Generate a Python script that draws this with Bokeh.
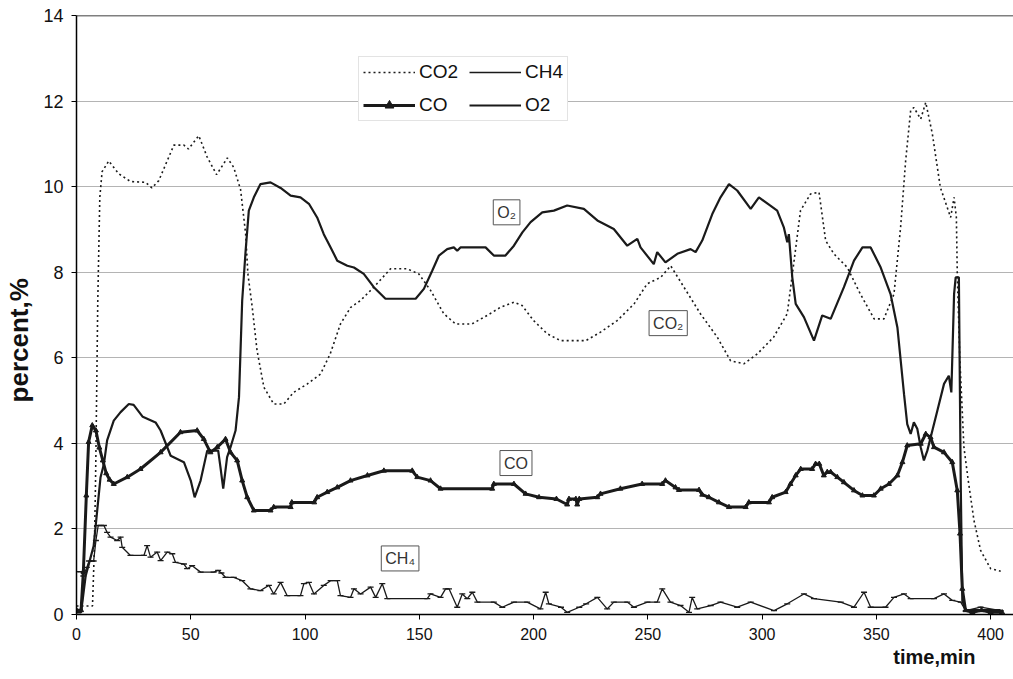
from bokeh.plotting import figure
from bokeh.models import Range1d, Legend, LegendItem, Span, Label, FixedTicker, Title
from bokeh.embed import file_html
from bokeh.resources import INLINE

# Gas composition during the run (time in minutes, concentration in percent)
co2_t = [0, 7, 7.8, 8.3, 8.6, 9.3, 10.2, 11.2, 14.1, 18.5, 23.6, 30.2, 33, 36, 42.6, 47, 49,
         53.5, 57.2, 61.3, 66, 68.8, 71.8, 74, 75, 76.9, 79, 82, 86.3, 90.7, 95, 101, 106.8,
         111, 115.5, 120, 124.3, 130.1, 137.4, 144.7, 149.8, 155, 160.7, 165.9, 173, 179.7,
         185.5, 191.4, 195, 200, 206, 211.8, 222.8, 229.3, 236.6, 244, 249.7, 255.6, 260,
         265.8, 273, 280.4, 286.2, 292, 297.9, 305, 311, 314, 316.8, 321.2, 324.9, 327.8,
         331.4, 337.3, 343, 349, 353.3, 357.7, 360.6, 362.8, 365, 366.4, 369.4, 371.6, 374.5,
         378, 382.5, 384, 385, 385.4, 386.5, 388.3, 390.2, 392.7, 395.6, 400, 404.4]
co2_v = [0.2, 0.2, 1.5, 3.0, 4.2, 7.3, 9.75, 10.35, 10.6, 10.3, 10.12, 10.1, 9.97, 10.14, 10.97,
         10.97, 10.88, 11.19, 10.69, 10.28, 10.67, 10.45, 9.93, 8.9, 7.96, 7.18, 6.17, 5.31,
         4.92, 4.92, 5.19, 5.39, 5.62, 6.09, 6.79, 7.18, 7.34, 7.65, 8.08, 8.08, 7.96, 7.57,
         7.03, 6.79, 6.79, 6.99, 7.18, 7.3, 7.22, 6.87, 6.56, 6.4, 6.4, 6.6, 6.87, 7.26, 7.73,
         7.88, 8.15, 7.65, 7.03, 6.48, 5.93, 5.86, 6.09, 6.48, 7.03, 8.27, 9.44, 9.83, 9.87,
         8.74, 8.43, 8.11, 7.49, 6.91, 6.91, 7.49, 9.05, 10.6, 11.78, 11.85, 11.58, 11.97,
         11.23, 9.98, 9.28, 9.75, 9.28, 7.96, 6.0, 3.91, 3.13, 2.2, 1.5, 1.07, 1.01]

o2_t = [0, 2, 4, 6, 7.5, 9, 10.5, 12, 13.4, 16.3, 19.3, 22.9, 25, 29, 34.6, 36.8, 41.2, 47, 50,
        51.7, 54.3, 57.2, 62, 63, 64.2, 65.9, 67.4, 69.6, 71.1, 72.5, 74, 75.4, 77.6, 80.5,
        84.9, 89.3, 93.7, 98, 101.7, 105.3, 108.2, 111.2, 114.1, 118.5, 121.4, 125.7, 130.1,
        135.2, 148.4, 152, 155.7, 158.6, 162.2, 165.1, 166.6, 168, 179, 182.6, 187.7, 191.4,
        195.1, 198.7, 203.8, 208.9, 214.7, 222, 227.9, 235.1, 241, 245.4, 246.8, 252.6,
        254.1, 257.7, 262.9, 268.7, 270.9, 273.8, 278.2, 281.8, 285.5, 289.1, 295, 298.6,
        303, 306.6, 309.5, 311, 311.7, 313.2, 314.7, 318.3, 322.7, 326.3, 330, 335.8, 340.2,
        343.9, 347.5, 351.9, 356.2, 359.2, 362.1, 363.5, 365, 366.4, 367.9, 369.4, 370.8,
        372.3, 374.5, 376.7, 379.6, 381.7, 382.8, 384, 384.7, 386.1, 386.9, 387.6, 389, 404.4]
o2_v = [0.05, 0.05, 0.9, 1.3, 1.6, 2.4, 3.2, 3.52, 4.07, 4.53, 4.73, 4.92, 4.9, 4.62, 4.49, 4.3,
        3.71, 3.56, 3.13, 2.74, 3.13, 3.83, 3.83, 3.44, 2.94, 3.68, 3.91, 4.3, 5.08, 7.34, 8.5,
        9.44, 9.75, 10.06, 10.1, 9.97, 9.79, 9.75, 9.6, 9.28, 8.89, 8.58, 8.27, 8.15, 8.11,
        7.96, 7.65, 7.38, 7.38, 7.61, 8.04, 8.39, 8.54, 8.58, 8.5, 8.58, 8.58, 8.39, 8.39,
        8.62, 8.93, 9.17, 9.4, 9.44, 9.56, 9.48, 9.21, 9.01, 8.62, 8.78, 8.58, 8.19, 8.47,
        8.23, 8.43, 8.54, 8.47, 8.74, 9.36, 9.75, 10.06, 9.91, 9.48, 9.75, 9.58, 9.44, 9.05,
        8.7, 8.89, 7.88, 7.26, 6.95, 6.4, 6.99, 6.91, 7.65, 8.27, 8.58, 8.58, 8.11, 7.49,
        6.71, 5.15, 4.45, 4.22, 4.49, 4.34, 3.91, 3.6, 3.83, 4.3, 4.77, 5.39, 5.58, 5.19,
        7.49, 7.88, 7.88, 3.13, 0.33, 0.1, 0.1]

co_t = [0, 2, 3, 4.3, 5.3, 6.9, 8.5, 10, 11.5, 13, 14.5, 16.3, 22.2, 28, 36.8, 45.5, 52.8, 55.7,
        58.6, 61.6, 65.2, 67.4, 70.3, 72.5, 74.7, 77.6, 84.9, 86.3, 93.7, 94.2, 104, 105.3,
        109.7, 114.1, 119.9, 127.3, 134.5, 146.9, 149.1, 154.9, 159.3, 181.9, 182.6, 191.4,
        196.5, 202.4, 210, 214.7, 215.5, 218.5, 219.1, 220, 227.9, 229.3, 238, 247.5, 256.3,
        257.7, 262.1, 263.6, 272.4, 273.8, 276.7, 281.1, 285.5, 292.8, 294.2, 303, 304.4,
        310.3, 312.4, 314.7, 316.9, 321.9, 323.4, 325, 327, 328.5, 330, 332.9, 335.8, 340.2,
        343.9, 348.9, 351.9, 355.5, 359.2, 361.4, 363.5, 369.4, 371.6, 373.7, 375.2, 379.6,
        383.2, 385.4, 386.6, 387.6, 389, 392, 396, 400, 405]
co_v = [0.1, 0.1, 1.0, 2.78, 4.03, 4.42, 4.3, 3.9, 3.6, 3.3, 3.15, 3.05, 3.21, 3.4, 3.79, 4.26,
        4.3, 4.1, 3.79, 3.91, 4.1, 3.79, 3.6, 3.13, 2.74, 2.43, 2.43, 2.51, 2.51, 2.62, 2.62,
        2.74, 2.86, 2.97, 3.13, 3.25, 3.36, 3.36, 3.21, 3.13, 2.94, 2.94, 3.05, 3.05, 2.82,
        2.74, 2.7, 2.57, 2.7, 2.7, 2.57, 2.7, 2.74, 2.82, 2.94, 3.05, 3.05, 3.13, 2.97, 2.91,
        2.91, 2.8, 2.74, 2.62, 2.51, 2.51, 2.62, 2.62, 2.74, 2.86, 3.05, 3.25, 3.4, 3.4, 3.52,
        3.52, 3.25, 3.33, 3.33, 3.21, 3.09, 2.9, 2.78, 2.78, 2.94, 3.05, 3.25, 3.56, 3.95,
        3.99, 4.22, 4.14, 3.91, 3.79, 3.56, 2.9, 1.89, 0.6, 0.1, 0.05, 0.1, 0.05, 0.05]

ch4_t = [0, 2, 3, 4.5, 5.5, 7.5, 8.5, 9.5, 12, 13.4, 14.9, 17.8, 19.3, 20, 23.6, 29.5, 30.9,
         32.4, 35.3, 36.8, 39.7, 41.9, 43.3, 47, 48.4, 50.6, 54.3, 60, 62, 63.4, 65.2, 68.8,
         72.5, 76.1, 80.5, 84.2, 86.3, 89.3, 92.2, 98, 99.5, 101.7, 103.9, 108.2, 111.2, 114.1,
         115.5, 119.9, 121.4, 124.3, 128.7, 130.9, 133.8, 136, 153.5, 154.9, 159.3, 161.5, 163,
         166.6, 168.8, 171, 173.2, 175.4, 182.6, 186.3, 191.4, 197.2, 203, 205.3, 206.7, 212,
         214.7, 220, 223, 227.9, 232.2, 235.1, 241, 243.9, 249.8, 254.1, 256.3, 259.9, 264.3,
         268, 269.4, 271.6, 277.5, 281.8, 289.1, 295, 305.2, 311, 318.3, 322.7, 334.4, 340.2,
         344.6, 347.5, 354, 357.7, 362.1, 365, 375.2, 379.6, 383.2, 386.9, 389.1, 395.6, 404.4]
ch4_v = [1.0, 1.0, 0.9, 1.1, 1.25, 1.25, 1.73, 2.08, 2.08, 1.92, 1.81, 1.73, 1.81, 1.57, 1.38,
         1.38, 1.61, 1.34, 1.46, 1.26, 1.46, 1.42, 1.22, 1.18, 1.07, 1.14, 0.99, 0.99, 1.03,
         0.97, 0.87, 0.87, 0.79, 0.6, 0.56, 0.68, 0.48, 0.75, 0.44, 0.44, 0.72, 0.75, 0.48,
         0.68, 0.79, 0.79, 0.44, 0.4, 0.6, 0.48, 0.64, 0.4, 0.72, 0.37, 0.37, 0.48, 0.4, 0.6,
         0.6, 0.17, 0.48, 0.37, 0.52, 0.29, 0.29, 0.17, 0.29, 0.29, 0.13, 0.52, 0.25, 0.17,
         0.05, 0.17, 0.25, 0.4, 0.13, 0.29, 0.29, 0.17, 0.29, 0.29, 0.6, 0.29, 0.21, 0.05, 0.4,
         0.13, 0.21, 0.29, 0.17, 0.29, 0.09, 0.25, 0.48, 0.37, 0.29, 0.17, 0.52, 0.17, 0.17,
         0.4, 0.48, 0.37, 0.37, 0.48, 0.33, 0.29, 0.09, 0.17, 0.09]

y_ticks = [0, 2, 4, 6, 8, 10, 12, 14]
x_ticks = [0, 50, 100, 150, 200, 250, 300, 350, 400]

# Boxed callouts naming each curve: (text, time, percent)
callouts = [("O₂", 188.2, 9.4), ("CO₂", 258.9, 6.81), ("CO", 192.3, 3.54), ("CH₄", 141.6, 1.31)]

FONT = "Liberation Sans"
INK = "#1a1a1a"

p = figure(width=1013, height=679, output_backend="svg", toolbar_location=None,
           x_range=Range1d(0, 410), y_range=Range1d(0, 14),
           min_border_left=76, min_border_right=0, min_border_top=15, min_border_bottom=65,
           background_fill_color="white", border_fill_color="white")
p.outline_line_color = None

p.xgrid.visible = False
p.ygrid.grid_line_color = "#b4b4b4"
p.ygrid.grid_line_width = 1
p.ygrid.ticker = FixedTicker(ticks=y_ticks)

p.xaxis.ticker = FixedTicker(ticks=x_ticks)
p.yaxis.ticker = FixedTicker(ticks=y_ticks)
for ax in (p.xaxis, p.yaxis):
    ax.axis_line_color = "black"
    ax.axis_line_width = 1.5
    ax.major_tick_line_color = "black"
    ax.major_tick_in = 0
    ax.major_tick_out = 5
    ax.minor_tick_line_color = None
    ax.major_label_text_font = FONT
    ax.major_label_text_color = "#111111"
    ax.axis_label_text_font = FONT
    ax.axis_label_text_font_style = "bold"
    ax.axis_label_text_color = "#111111"

p.yaxis.major_label_text_font_size = "18px"
p.yaxis.major_label_standoff = 8
# trailing no-break spaces push the rotated title a little below the axis midpoint
p.yaxis.axis_label = "percent,%" + "\u00a0" * 7
p.yaxis.axis_label_text_font_size = "26px"
p.yaxis.axis_label_standoff = 6

p.xaxis.major_label_text_font_size = "16px"
p.xaxis.major_label_standoff = 8

p.add_layout(Span(location=14, dimension="width", line_color="black", line_width=1.5))

r_co2 = p.line(co2_t, co2_v, line_color=INK, line_width=1.6, line_dash="2 3")
r_ch4 = p.line(ch4_t, ch4_v, line_color=INK, line_width=1.3)
r_ch4_pts = p.scatter(ch4_t, ch4_v, marker="dash", size=6, line_color=INK, line_width=1.3)
r_o2 = p.line(o2_t, o2_v, line_color=INK, line_width=2.2)
r_co = p.line(co_t, co_v, line_color=INK, line_width=3)
r_co_pts = p.scatter(co_t, co_v, marker="triangle", size=5, fill_color=INK, line_color=INK)

# two columns, filled column by column
legend = Legend(items=[
    LegendItem(label="CO2", renderers=[r_co2]),
    LegendItem(label="CO", renderers=[r_co, r_co_pts]),
    LegendItem(label="CH4", renderers=[r_ch4]),
    LegendItem(label="O2", renderers=[r_o2]),
], ncols=2, location=(282, 493))
legend.label_text_font = FONT
legend.label_text_font_size = "19px"
legend.label_text_color = "#111111"
legend.glyph_width = 52
legend.glyph_height = 22
legend.label_height = 22
legend.label_standoff = 4
legend.spacing = 11
legend.padding = 4
legend.margin = 0
legend.border_line_color = "#c8c8c8"
legend.border_line_width = 1
legend.background_fill_color = "white"
legend.background_fill_alpha = 1
p.add_layout(legend)

for text, tx, ty in callouts:
    p.add_layout(Label(x=tx, y=ty, text=text, text_align="center", text_baseline="middle",
                       text_font=FONT, text_font_size="16px", text_color="#333333",
                       border_line_color="#555555", border_line_width=1,
                       background_fill_color="white", padding=4))

p.add_layout(Title(text="time,min", align="right", offset=38, standoff=2,
                   text_font=FONT, text_font_size="20px", text_font_style="bold",
                   text_color="#111111"), "below")

open("out.html", "w").write(file_html(p, INLINE))
